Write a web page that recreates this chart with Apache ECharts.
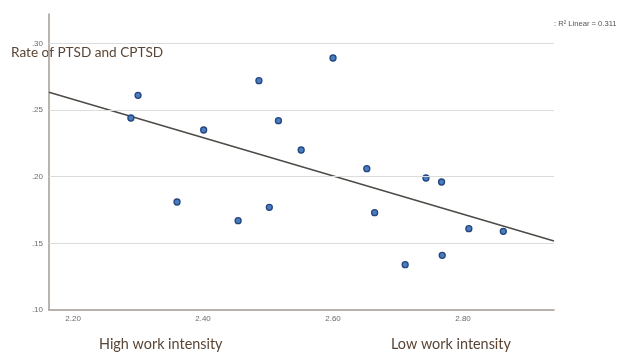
<!DOCTYPE html>
<html>
<head>
<meta charset="utf-8">
<script src="https://cdn.jsdelivr.net/npm/echarts@6/dist/echarts.min.js"></script>
<style>html,body{margin:0;padding:0;background:#fff}#c{width:619px;height:354px}</style>
</head>
<body>
<div id="c"></div>
<script>
// Work intensity score (x) and rate of PTSD/CPTSD (y)
const workIntensity = [2.289, 2.300, 2.360, 2.401, 2.454, 2.486, 2.502, 2.516, 2.551, 2.600, 2.652, 2.664, 2.711, 2.743, 2.767, 2.768, 2.809, 2.862];
const ptsdRate      = [0.244, 0.261, 0.181, 0.235, 0.167, 0.272, 0.177, 0.242, 0.220, 0.289, 0.206, 0.173, 0.134, 0.199, 0.196, 0.141, 0.161, 0.159];
// Linear fit line endpoints
const fitX = [2.163, 2.94];
const fitY = [0.2633, 0.1517];
// Axis ranges
const xRange = [2.163, 2.94];
const yRange = [0.10, 0.322];
const yGridTicks = [0.15, 0.20, 0.25, 0.30];
const titleText = 'Rate of PTSD and CPTSD';
const leftNote = 'High work intensity';
const rightNote = 'Low work intensity';
const r2Text = 'R² Linear = 0.311';

const chart = echarts.init(document.getElementById('c'), null, {renderer: 'canvas'});
const pts = workIntensity.map((x, i) => [x, ptsdRate[i]]);
const fit = fitX.map((x, i) => [x, fitY[i]]);
const axisColor = '#a39b95';
const labelStyle = {color: '#6b6b6b', fontSize: 8, fontFamily: 'Liberation Sans'};

chart.setOption({
  animation: false,
  grid: {left: 49, right: 65, top: 14, bottom: 44},
  xAxis: {
    type: 'value', min: xRange[0], max: xRange[1], splitNumber: 4,
    axisLine: {show: true, lineStyle: {color: axisColor, width: 1.5}},
    axisTick: {show: false},
    splitLine: {show: false},
    axisLabel: Object.assign({}, labelStyle, {showMinLabel: false, showMaxLabel: false, margin: 5,
      formatter: v => v.toFixed(2)})
  },
  yAxis: {
    type: 'value', min: yRange[0], max: yRange[1], interval: 0.05,
    axisLine: {show: true, lineStyle: {color: axisColor, width: 1.5}},
    axisTick: {show: false},
    splitLine: {show: false},
    axisLabel: Object.assign({}, labelStyle, {showMaxLabel: false, margin: 6,
      formatter: v => v.toFixed(2).replace(/^0/, '')})
  },
  series: [
    {
      type: 'scatter', data: pts, symbolSize: 6, z: 3,
      itemStyle: {color: '#4a7cc0', borderColor: '#24467e', borderWidth: 1.3, opacity: 1},
      markLine: {
        silent: true, symbol: 'none', label: {show: false},
        lineStyle: {color: '#dcdcdc', width: 1.2, type: 'solid'},
        data: yGridTicks.map(v => ({yAxis: v}))
      }
    },
    {
      type: 'line', data: fit, showSymbol: false, symbol: 'none', z: 2,
      lineStyle: {color: '#4e4a46', width: 1.5}
    }
  ],
  graphic: [
    {type: 'text', left: 11, top: 46, style: {text: titleText, fill: '#5a4535', font: '13.6px Lato'}},
    {type: 'text', left: 99, top: 337, style: {text: leftNote, fill: '#5a4535', font: '14.4px Lato'}},
    {type: 'text', left: 391, top: 337, style: {text: rightNote, fill: '#5a4535', font: '14.4px Lato'}},
    {type: 'text', left: 554, top: 20, style: {text: ': ' + r2Text, fill: '#555', font: '7.6px "Liberation Sans"'}}
  ]
});
</script>
</body>
</html>
